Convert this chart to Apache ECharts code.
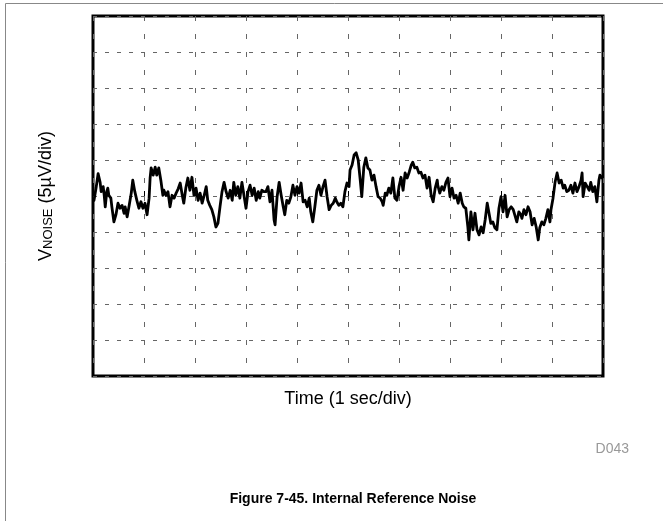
<!DOCTYPE html>
<html>
<head>
<meta charset="utf-8">
<script src="https://cdn.jsdelivr.net/npm/echarts@6/dist/echarts.min.js"></script>
<style>
html,body{margin:0;padding:0;background:#fff;}
#c{width:663px;height:521px;}
</style>
</head>
<body>
<div id="c"></div>
<script>
// Time in seconds (1 s/div), noise in µV (5 µV/div)
var timeSec = [0.02,0.06,0.10,0.14,0.16,0.20,0.22,0.24,0.27,0.29,0.31,0.35,0.37,0.41,0.45,0.49,0.53,0.57,0.61,0.63,0.67,0.71,0.75,0.78,0.82,0.86,0.90,0.94,0.98,1.02,1.06,1.10,1.12,1.14,1.18,1.22,1.25,1.29,1.33,1.37,1.39,1.43,1.47,1.51,1.55,1.59,1.63,1.67,1.71,1.75,1.78,1.82,1.86,1.90,1.94,1.98,2.02,2.06,2.10,2.14,2.18,2.22,2.25,2.29,2.33,2.37,2.41,2.45,2.49,2.53,2.57,2.61,2.65,2.69,2.73,2.76,2.80,2.84,2.88,2.92,2.96,3.00,3.04,3.08,3.12,3.16,3.20,3.24,3.27,3.31,3.35,3.39,3.43,3.47,3.51,3.55,3.57,3.61,3.65,3.69,3.73,3.76,3.80,3.84,3.88,3.92,3.96,4.00,4.04,4.08,4.12,4.16,4.20,4.24,4.27,4.31,4.35,4.39,4.43,4.47,4.51,4.55,4.59,4.63,4.67,4.71,4.75,4.78,4.82,4.86,4.90,4.94,4.98,5.02,5.04,5.08,5.12,5.16,5.20,5.24,5.27,5.31,5.35,5.39,5.43,5.47,5.51,5.55,5.59,5.63,5.67,5.69,5.73,5.76,5.80,5.84,5.88,5.92,5.96,6.00,6.04,6.08,6.12,6.16,6.20,6.24,6.27,6.31,6.35,6.39,6.43,6.47,6.51,6.55,6.59,6.63,6.67,6.71,6.75,6.76,6.80,6.84,6.88,6.92,6.96,7.00,7.04,7.08,7.12,7.16,7.20,7.24,7.27,7.31,7.35,7.37,7.41,7.45,7.49,7.53,7.57,7.61,7.65,7.69,7.73,7.76,7.80,7.84,7.88,7.92,7.96,8.00,8.04,8.08,8.12,8.16,8.20,8.24,8.27,8.31,8.35,8.39,8.41,8.45,8.49,8.53,8.57,8.61,8.65,8.69,8.73,8.76,8.80,8.84,8.88,8.92,8.96,8.98,9.02,9.06,9.10,9.14,9.18,9.22,9.25,9.29,9.33,9.37,9.41,9.45,9.49,9.53,9.57,9.59,9.61,9.65,9.69,9.73,9.76,9.80,9.84,9.88,9.92,9.94,9.98];
var noiseUV = [-0.6,1.1,3.1,1.9,0.6,1.3,0.1,-1.5,0.6,1.1,0.1,-0.3,-1.5,-3.6,-2.6,-1.0,-1.7,-1.3,-2.4,-1.5,-2.9,-1.3,0.4,2.2,0.6,-0.6,-1.7,-0.8,-1.7,-1.0,-2.6,-0.3,2.5,3.9,2.9,4.0,2.9,3.9,2.2,0.1,0.8,0.1,0.6,-1.5,0.1,-0.3,0.4,1.0,1.8,0.1,-1.0,1.1,2.5,0.8,2.6,0.1,1.1,-0.6,0.4,-1.0,0.1,1.3,-0.6,-1.3,-1.9,-2.9,-4.3,-3.8,-1.5,0.6,1.9,0.6,-0.3,0.8,-0.6,1.9,0.1,1.3,-0.3,1.9,0.1,-1.7,0.6,1.5,0.1,1.1,-0.6,0.6,-0.3,0.8,0.6,0.6,1.3,-0.8,0.8,-3.3,-4.0,-0.1,1.9,0.1,-1.5,-2.6,-0.6,-1.0,-0.1,1.5,0.1,1.3,0.4,1.8,-0.8,-0.6,-1.5,-0.3,-2.2,-3.6,-1.5,0.8,1.5,0.1,1.3,2.2,-0.1,-1.9,-1.3,-1.0,-0.3,-0.8,-1.3,-1.0,-1.5,0.6,1.8,1.3,3.6,4.3,5.7,6.0,5.0,2.2,-0.1,4.0,5.3,3.9,3.6,2.2,2.9,1.3,-0.1,-0.3,-0.8,-1.3,0.4,0.1,1.1,0.4,2.5,-0.3,-0.6,1.3,2.6,0.8,3.2,2.5,3.3,4.3,4.7,3.9,4.0,3.2,3.3,2.5,2.9,1.1,2.6,0.1,-0.8,1.1,2.2,1.5,0.4,1.3,0.8,1.9,2.5,-0.1,1.1,-0.3,0.1,-1.0,0.4,-1.0,-1.5,-1.7,-4.3,-6.1,-2.2,-4.7,-2.4,-4.7,-5.4,-4.3,-5.1,-3.3,-1.0,-2.2,-3.8,-3.6,-4.4,-4.7,-1.7,-0.1,-2.2,0.1,-2.9,-1.9,-1.5,-1.9,-1.7,-3.6,-2.2,-2.6,-3.1,-1.9,-2.6,-1.5,-2.2,-4.0,-3.1,-4.3,-6.1,-4.4,-3.6,-4.0,-3.1,-1.9,-3.6,-1.9,-0.3,1.9,3.2,1.8,2.2,1.1,1.5,0.6,0.8,1.5,0.4,1.8,0.6,1.3,2.2,3.2,-0.1,1.8,1.3,0.8,1.9,0.6,1.3,-0.8,2.2,2.9,2.5];
var xLabel = 'Time (1 sec/div)';
var yLabel = ['V', 'NOISE', ' (5\u00B5V/div)'];
var figTitle = 'Figure 7-45. Internal Reference Noise';
var figId = 'D043';

var pts = timeSec.map(function (t, i) { return [t, noiseUV[i]]; });
var FONT = '"Liberation Sans", Arial, sans-serif';

var chart = echarts.init(document.getElementById('c'), null, {renderer: 'canvas'});
chart.setOption({
  animation: false,
  backgroundColor: '#fff',
  title: [{
    text: figTitle,
    left: 348, top: 487, textAlign: 'center',
    textStyle: {fontFamily: FONT, fontSize: 14, fontWeight: 'bold', color: '#000'}
  }, {
    text: figId,
    right: 29, top: 437,
    textStyle: {fontFamily: FONT, fontSize: 14, fontWeight: 'normal', color: '#999'}
  }],
  graphic: [{
    type: 'rect', silent: true,
    shape: {x: 5.5, y: 3.5, width: 700, height: 600},
    style: {fill: 'none', stroke: '#888', lineWidth: 1}
  }],
  grid: {
    left: 93, top: 16, width: 510, height: 360,
    show: true, borderColor: '#000', borderWidth: 3, backgroundColor: 'transparent'
  },
  xAxis: {
    type: 'value', min: 0, max: 10, interval: 1,
    name: xLabel, nameLocation: 'middle', nameGap: 14,
    nameTextStyle: {fontFamily: FONT, fontSize: 18, color: '#000'},
    axisLine: {show: false},
    axisLabel: {show: false},
    axisTick: {show: true, inside: true, length: 5, lineStyle: {color: '#000', width: 1}},
    splitLine: {show: true, lineStyle: {color: '#666', width: 1, type: [5, 13]}}
  },
  yAxis: {
    type: 'value', min: -25, max: 25, interval: 5,
    name: '{v|' + yLabel[0] + '}{s|' + yLabel[1] + '}{n|' + yLabel[2] + '}',
    nameLocation: 'middle', nameGap: 38, nameRotate: 90,
    nameTextStyle: {
      fontFamily: FONT, color: '#000',
      rich: {
        v: {fontFamily: FONT, fontSize: 18, color: '#000'},
        s: {fontFamily: FONT, fontSize: 13, color: '#000', verticalAlign: 'bottom', padding: [5, 0, 0, 0]},
        n: {fontFamily: FONT, fontSize: 18, color: '#000'}
      }
    },
    axisLine: {show: false},
    axisLabel: {show: false},
    axisTick: {show: false},
    splitLine: {show: true, lineStyle: {color: '#666', width: 1, type: [4, 8]}}
  },
  series: [{
    type: 'line', data: pts, showSymbol: false, symbol: 'none',
    lineStyle: {color: '#000', width: 2.8, join: 'round', cap: 'round'},
    z: 5
  }]
});
</script>
</body>
</html>
